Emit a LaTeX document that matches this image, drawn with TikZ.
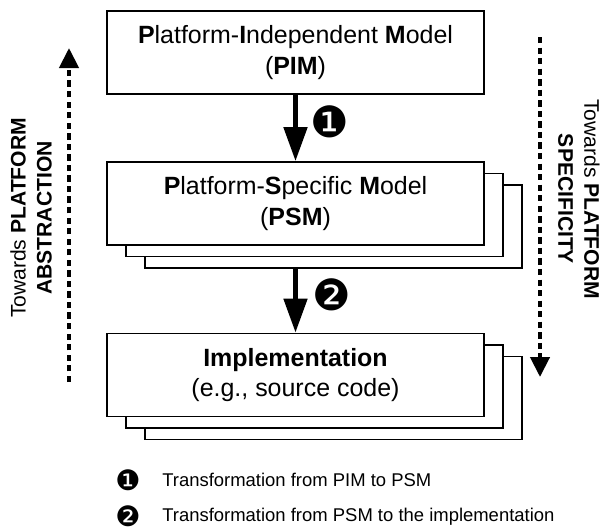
\documentclass[tikz,border=0pt]{standalone}
\usepackage{fontspec}
\setmainfont{Liberation Sans}
\newfontfamily\dingfont{DejaVu Sans}
\usepackage{xcolor}
\usepackage{tikz}
\usetikzlibrary{arrows.meta,positioning}

\begin{document}
\begin{tikzpicture}[
  mbox/.style={draw, line width=1pt, fill=white, minimum width=7.54cm, minimum height=1.66cm,
    align=center, inner sep=0pt, font=\fontsize{14.2pt}{17.6pt}\selectfont},
  bigarr/.style={-{Triangle[length=6.8mm, width=4.6mm]}, line width=2.8pt},
  dotarr/.style={-{Triangle[length=4mm, width=3.8mm]}, line width=2.4pt,
    dash pattern=on 3.6pt off 2.4pt},
  side/.style={align=center, inner sep=0pt, font=\fontsize{12pt}{14.8pt}\selectfont},
  ding/.style={inner sep=0pt, font=\dingfont\fontsize{24.5pt}{24.5pt}\selectfont},
  keyding/.style={inner sep=0pt, font=\dingfont\fontsize{16pt}{16pt}\selectfont},
  keytxt/.style={anchor=west, inner sep=0pt, font=\fontsize{10.5pt}{12pt}\selectfont},
]
\useasboundingbox (0,0) rectangle (12.04,-10.58);

% models
\node[mbox] (pim) at (5.91,-1.05)
  {\textbf{P}latform-\textbf{I}ndependent \textbf{M}odel\\(\textbf{PIM})};

\node[mbox] (psm3) at (6.67,-4.53) {};
\node[mbox] (psm2) at (6.29,-4.30) {};
\node[mbox] (psm) at (5.91,-4.07)
  {\textbf{P}latform-\textbf{S}pecific \textbf{M}odel\\(\textbf{PSM})};

\node[mbox] (impl3) at (6.67,-7.96) {};
\node[mbox] (impl2) at (6.29,-7.73) {};
\node[mbox] (impl) at (5.91,-7.50)
  {\textbf{Implementation}\\(e.g., source code)};

% transformations
\draw[bigarr] (pim.south) -- (psm.north);
\node[ding] (t1) at (6.60,-2.44) {❶};
\draw[bigarr] (psm3.south -| psm.south) -- (impl.north);
\node[ding] (t2) at (6.64,-5.90) {❷};

% directions
\coordinate (absbot) at (1.38,-7.64);
\coordinate (abstop) at (1.38,-0.96);
\draw[dotarr] (absbot) -- (abstop);
\node[side, rotate=90] (abs) at (0.62,-4.36)
  {Towards \textbf{PLATFORM}\\\textbf{ABSTRACTION}};

\coordinate (spectop) at (10.80,-0.74);
\coordinate (specbot) at (10.80,-7.54);
\draw[dotarr] (spectop) -- (specbot);
\node[side, rotate=-90] (spec) at (11.58,-3.98)
  {Towards \textbf{PLATFORM}\\\textbf{SPECIFICITY}};

% key
\node[keyding] (k1) at (2.56,-9.60) {❶};
\node[keytxt] (k1txt) at (3.24,-9.60) {Transformation from PIM to PSM};
\node[keyding] (k2) at (2.56,-10.32) {❷};
\node[keytxt] (k2txt) at (3.24,-10.34) {Transformation from PSM to the implementation};
\end{tikzpicture}
\end{document}
